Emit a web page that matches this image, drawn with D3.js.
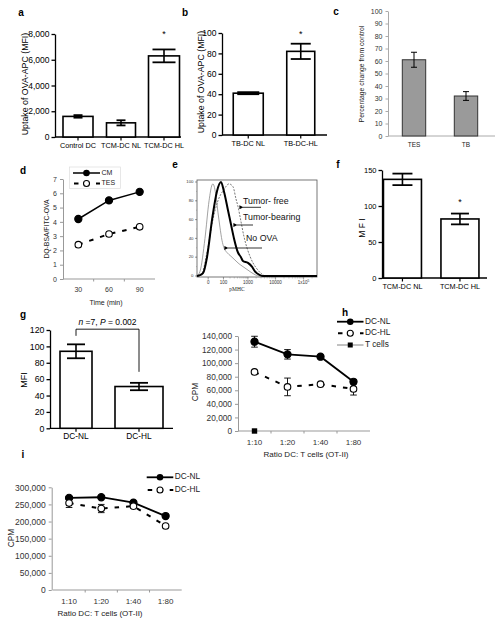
<!DOCTYPE html>
<html><head><meta charset="utf-8">
<script src="https://cdn.jsdelivr.net/npm/d3@7"></script>
<style>body{margin:0;background:#fff}svg{display:block}</style>
</head><body><svg id="fig" width="500" height="625"></svg>
<script>
// ---------- DATA ----------
const aCats = ["Control DC", "TCM-DC NL", "TCM-DC HL"];
const aVals = [1600, 1100, 6300];
const aErr = [100, 200, 500];
const aTicks = [0, 2000, 4000, 6000, 8000];

const bCats = ["TB-DC NL", "TB-DC-HL"];
const bVals = [41, 82];
const bErr = [1, 7.5];
const bTicks = [0, 20, 40, 60, 80, 100];

const cCats = ["TES", "TB"];
const cVals = [61, 32];
const cErr = [6, 3.5];
const cTicks = [0, 10, 20, 30, 40, 50, 60, 70, 80, 90, 100];

const dTimes = ["30", "60", "90"];
const dCM = [4.2, 5.5, 6.1];
const dTES = [2.4, 3.15, 3.65];
const dTicks = [0, 1, 2, 3, 4, 5, 6, 7];

const eTumorFree = [[-60,0],[-32,1],[-1,30],[19,60],[49,80],[106,92],[180,98],[266,95],[351,82],[420,74],[548,58],[712,42],[922,30],[1190,21],[1533,14],[1971,9],[2532,5],[3252,2],[4528,0],[300000,0]];
const eTumorBearing = [[-60,0],[-45,0.5],[-21,3],[-4,20],[15,60],[42,90],[74,100],[106,90],[163,70],[219,55],[292,40],[420,25],[548,20],[652,16],[1004,14],[1408,10],[1813,5],[2752,1],[3520,0],[300000,0]];
const eNoOVA = [[-60,0],[-38,5],[-12,40],[3,80],[15,97],[19,98],[36,85],[49,68],[65,52],[84,38],[106,30],[147,25],[219,21],[320,17],[460,13],[652,10],[922,7],[1296,4],[1669,2],[2532,0],[300000,0]];
const eXTicks = [0, 100, 1000, 10000, 100000];
const eYTicks = [0, 20, 40, 60, 80, 100];

const fCats = ["TCM-DC NL", "TCM-DC HL"];
const fVals = [137, 82];
const fErr = [8, 7.5];
const fTicks = [0, 50, 100, 150];

const gCats = ["DC-NL", "DC-HL"];
const gVals = [94, 51];
const gErr = [8.5, 4.5];
const gTicks = [0, 20, 40, 60, 80, 100, 120];

const hRatios = ["1:10", "1:20", "1:40", "1:80"];
const hNL = [131600, 113000, 109500, 72500];
const hNLErr = [8000, 7000, 2000, 3000];
const hHL = [87000, 65000, 69000, 62000];
const hHLErr = [2000, 13000, 2000, 9000];
const hTcells = [0];
const hTicks = [0, 20000, 40000, 60000, 80000, 100000, 120000, 140000];

const iRatios = ["1:10", "1:20", "1:40", "1:80"];
const iNL = [269000, 271000, 255000, 216000];
const iNLErr = [3000, 3000, 3000, 4000];
const iHL = [254000, 238000, 245000, 187000];
const iHLErr = [13000, 12000, 3000, 3000];
const iTicks = [0, 50000, 100000, 150000, 200000, 250000, 300000];

// ---------- DRAW ----------
const FONT = '"Liberation Sans", Arial, sans-serif';
const svg = d3.select("#fig").attr("font-family", FONT);
const defs = svg.append("defs");
defs.append("marker").attr("id","arr").attr("viewBox","0 0 10 10").attr("refX",1).attr("refY",5)
  .attr("markerWidth",5).attr("markerHeight",5).attr("orient","auto-start-reverse")
  .append("path").attr("d","M0,5 L10,0 L10,10 Z").attr("fill","#000");

function txt(g, x, y, s, fs, opt = {}) {
  const t = g.append("text").attr("x", x).attr("y", y).attr("font-size", fs)
    .attr("text-anchor", opt.anchor || "middle").attr("dominant-baseline", "middle")
    .attr("fill", opt.fill || "#000").text(s);
  if (opt.weight) t.attr("font-weight", opt.weight);
  if (opt.rot) t.attr("transform", `rotate(${opt.rot},${x},${y})`);
  if (opt.family) t.attr("font-family", opt.family);
  return t;
}

// panel letters
[["a",21,13],["b",185,13],["c",336,12],["d",23,171],["e",175,165],["f",338,165],["g",23,315],["h",345,313],["i",23,455]]
  .forEach(([l,x,y]) => txt(svg, x, y, l, 10, {weight:"bold"}));

// GraphPad-style bar panel
function gpBars(o) {
  const g = svg.append("g");
  const y = d3.scaleLinear().domain(o.yDomain).range(o.yRange);
  const x = d3.scalePoint().domain(o.cats).range(o.xRange).padding(0.5);
  const ax = g.append("g").attr("transform", `translate(${o.axisX},0)`)
    .call(d3.axisLeft(y).tickValues(o.ticks).tickSize(3.5).tickPadding(2).tickSizeOuter(0).tickFormat(o.fmt || d3.format(",")));
  ax.attr("font-family", FONT).attr("font-size", o.tickFs);
  ax.select(".domain").attr("stroke", "#000").attr("stroke-width", 1.3);
  ax.selectAll(".tick line").attr("stroke", "#000").attr("stroke-width", 1.3);
  ax.selectAll(".tick text").attr("fill", "#000");
  const y0 = y(0);
  g.append("line").attr("x1", o.axisX).attr("x2", o.xEnd).attr("y1", y0).attr("y2", y0).attr("stroke", "#000").attr("stroke-width", 1.3);
  g.selectAll("line.xt").data(o.cats).join("line").attr("x1", d => x(d)).attr("x2", d => x(d))
    .attr("y1", y0).attr("y2", y0 + 3.5).attr("stroke", "#000").attr("stroke-width", 1.2);
  g.selectAll("rect.bar").data(o.vals).join("rect")
    .attr("x", (d, i) => x(o.cats[i]) - o.barW[i] / 2).attr("y", d => y(d))
    .attr("width", (d, i) => o.barW[i]).attr("height", d => y0 - y(d))
    .attr("fill", "#fff").attr("stroke", "#000").attr("stroke-width", 1.6);
  o.vals.forEach((v, i) => {
    const cx = x(o.cats[i]), cw = o.capW[i] / 2, e = o.err[i];
    g.append("line").attr("x1", cx).attr("x2", cx).attr("y1", y(v - e)).attr("y2", y(v + e)).attr("stroke", "#000").attr("stroke-width", 1.6);
    [v - e, v + e].forEach(t => g.append("line").attr("x1", cx - cw).attr("x2", cx + cw).attr("y1", y(t)).attr("y2", y(t)).attr("stroke", "#000").attr("stroke-width", 1.8));
    txt(g, cx, y0 + 9, o.cats[i], o.catFs);
  });
  if (o.stars) o.stars.forEach(i => txt(g, x(o.cats[i]), y(o.vals[i] + o.err[i]) - o.starGap, "*", 9));
  txt(g, o.titleX, o.titleY, o.title, o.titleFs, {rot: -90});
  return {g, x, y};
}

// a
gpBars({cats: aCats, vals: aVals, err: aErr, ticks: aTicks, yDomain: [0, 8000], yRange: [137, 34],
  xRange: [56.5, 185.5], axisX: 55, xEnd: 181, barW: [30, 29, 31], capW: [9, 9, 23], tickFs: 8.5, catFs: 7.3,
  stars: [2], starGap: 15, title: "Uptake of OVA-APC (MFI)", titleX: 26, titleY: 84, titleFs: 8.8});
// b
gpBars({cats: bCats, vals: bVals, err: bErr, ticks: bTicks, yDomain: [0, 100], yRange: [135, 33],
  xRange: [222, 327], axisX: 222, xEnd: 327, barW: [30, 28], capW: [22, 20], tickFs: 8.5, catFs: 7.3,
  stars: [1], starGap: 9, title: "Uptake of OVA-APC (MFI)", titleX: 202, titleY: 82, titleFs: 8.8});
// f
gpBars({cats: fCats, vals: fVals, err: fErr, ticks: fTicks, yDomain: [0, 150], yRange: [278, 170],
  xRange: [373.7, 488.7], axisX: 382, xEnd: 487, barW: [38, 38], capW: [20, 18], tickFs: 7.5, catFs: 7.3,
  stars: [1], starGap: 11, title: "M F I", titleX: 363, titleY: 228, titleFs: 8.5});
// g
const G = gpBars({cats: gCats, vals: gVals, err: gErr, ticks: gTicks, yDomain: [0, 120], yRange: [428.3, 330],
  xRange: [44.5, 170.5], axisX: 50, xEnd: 173, barW: [32, 48], capW: [18, 18], tickFs: 8.8, catFs: 8.3,
  title: "MFI", titleX: 25, titleY: 380, titleFs: 9});
{
  const yb = G.y, x1 = G.x(gCats[0]), x2 = G.x(gCats[1]);
  const top = yb(121);
  G.g.append("path").attr("d", `M${x1},${yb(gVals[0] + gErr[0]) - 8.5}V${top}H${x2}V${yb(gVals[1] + gErr[1]) - 11}`)
    .attr("fill", "none").attr("stroke", "#000").attr("stroke-width", 0.9);
  const t = G.g.append("text").attr("x", (x1 + x2) / 2).attr("y", top - 6.5).attr("text-anchor", "middle")
    .attr("dominant-baseline", "middle").attr("font-size", 8.5);
  t.append("tspan").attr("font-style", "italic").text("n");
  t.append("tspan").text(" =7, ");
  t.append("tspan").attr("font-style", "italic").text("P");
  t.append("tspan").text(" = 0.002");
}

// c (Excel style bars)
{
  const g = svg.append("g");
  const y = d3.scaleLinear().domain([0, 100]).range([136, 11]);
  const x = d3.scalePoint().domain(cCats).range([388, 492]).padding(0.5);
  const ax = g.append("g").attr("transform", "translate(388,0)")
    .call(d3.axisLeft(y).tickValues(cTicks).tickSize(2.5).tickPadding(3).tickSizeOuter(0));
  ax.attr("font-family", FONT).attr("font-size", 7);
  ax.select(".domain").attr("stroke", "#aaa");
  ax.selectAll(".tick line").attr("stroke", "#aaa");
  ax.selectAll(".tick text").attr("fill", "#333");
  g.append("line").attr("x1", 388).attr("x2", 495).attr("y1", 136).attr("y2", 136).attr("stroke", "#aaa");
  g.selectAll("rect").data(cVals).join("rect").attr("x", (d, i) => x(cCats[i]) - 11.7).attr("y", d => y(d))
    .attr("width", 23.4).attr("height", d => 136 - y(d)).attr("fill", "#9a9a9a").attr("stroke", "#333").attr("stroke-width", 1);
  cVals.forEach((v, i) => {
    const cx = x(cCats[i]), e = cErr[i];
    g.append("line").attr("x1", cx).attr("x2", cx).attr("y1", y(v - e)).attr("y2", y(v + e)).attr("stroke", "#000").attr("stroke-width", 1);
    [v - e, v + e].forEach(t => g.append("line").attr("x1", cx - 3).attr("x2", cx + 3).attr("y1", y(t)).attr("y2", y(t)).attr("stroke", "#000").attr("stroke-width", 1));
    txt(g, cx, 145.5, cCats[i], 6.5, {fill: "#222"});
  });
  txt(g, 362, 74, "Percentage change from control", 6.8, {rot: -90, fill: "#222"});
}

// Excel-style line panel helper
function xlAxes(g, o) {
  const ax = g.append("g").attr("transform", `translate(${o.axisX},0)`)
    .call(d3.axisLeft(o.y).tickValues(o.ticks).tickSize(3).tickPadding(3).tickSizeOuter(0).tickFormat(o.fmt));
  ax.attr("font-family", FONT).attr("font-size", o.tickFs);
  ax.select(".domain").attr("stroke", "#999");
  ax.selectAll(".tick line").attr("stroke", "#999");
  ax.selectAll(".tick text").attr("fill", "#333");
  const xr = o.x.range();
  g.append("line").attr("x1", xr[0]).attr("x2", xr[1]).attr("y1", o.y(0)).attr("y2", o.y(0)).attr("stroke", "#999");
  o.x.domain().forEach(c => {
    const cx = o.x(c) + o.x.bandwidth() / 2;
    txt(g, cx, o.y(0) + o.catGap, c, o.catFs, {fill: "#333"});
  });
  o.x.domain().slice(1).forEach(c => g.append("line").attr("x1", o.x(c)).attr("x2", o.x(c)).attr("y1", o.y(0)).attr("y2", o.y(0) + 2.5).attr("stroke", "#999"));
}
function series(g, x, y, cats, vals, err, dashed, filled, lw) {
  const cx = c => x(c) + x.bandwidth() / 2;
  const line = d3.line().x((d, i) => cx(cats[i])).y(d => y(d));
  g.append("path").attr("d", line(vals)).attr("fill", "none").attr("stroke", "#000").attr("stroke-width", lw)
    .attr("stroke-dasharray", dashed ? "4.5,7" : null);
  if (err) vals.forEach((v, i) => {
    const X = cx(cats[i]);
    g.append("line").attr("x1", X).attr("x2", X).attr("y1", y(v - err[i])).attr("y2", y(v + err[i])).attr("stroke", "#000").attr("stroke-width", 0.9);
    [v - err[i], v + err[i]].forEach(t => g.append("line").attr("x1", X - 3.3).attr("x2", X + 3.3).attr("y1", y(t)).attr("y2", y(t)).attr("stroke", "#000").attr("stroke-width", 0.9));
  });
  g.selectAll(null).data(vals).join("circle").attr("cx", (d, i) => cx(cats[i])).attr("cy", d => y(d))
    .attr("r", filled ? 3.6 : 3.3).attr("fill", filled ? "#000" : "#fff").attr("stroke", "#000").attr("stroke-width", 1.1);
}
function legendItem(g, x1, x2, yy, label, dashed, marker, fs, lw, color) {
  g.append("line").attr("x1", x1).attr("x2", x2).attr("y1", yy).attr("y2", yy).attr("stroke", color || "#000")
    .attr("stroke-width", lw).attr("stroke-dasharray", dashed ? "4.5,6.5" : null)
    .attr("stroke-dashoffset", dashed ? -1 : null);
  const mx = (x1 + x2) / 2;
  if (marker === "filled") g.append("circle").attr("cx", mx).attr("cy", yy).attr("r", 3.3).attr("fill", "#000");
  if (marker === "open") g.append("circle").attr("cx", mx).attr("cy", yy).attr("r", 3).attr("fill", "#fff").attr("stroke", "#000").attr("stroke-width", 1.1);
  if (marker === "square") g.append("rect").attr("x", mx - 2.5).attr("y", yy - 2.5).attr("width", 5).attr("height", 5).attr("fill", "#000");
  txt(g, x2 + 1.5, yy, label, fs, {anchor: "start", fill: "#222"});
}

// d
{
  const g = svg.append("g");
  const y = d3.scaleLinear().domain([0, 7]).range([279, 179]);
  const x = d3.scaleBand().domain(dTimes).range([63, 155]);
  xlAxes(g, {x, y, ticks: dTicks, axisX: 63, tickFs: 7, catFs: 7, catGap: 11, fmt: d3.format("d")});
  series(g, x, y, dTimes, dCM, null, false, true, 1.5);
  series(g, x, y, dTimes, dTES, null, true, false, 2);
  g.append("rect").attr("x", 69.5).attr("y", 167).attr("width", 51).attr("height", 21.5).attr("fill", "none").attr("stroke", "#ddd").attr("stroke-width", 0.7);
  legendItem(g, 73, 100, 173, "CM", false, "filled", 7, 1.5);
  legendItem(g, 73, 100, 183.5, "TES", true, "open", 7, 2);
  txt(g, 47, 229, "DQ-BSA/FITC-OVA", 6.8, {rot: -90, fill: "#222"});
  txt(g, 106, 303, "Time (min)", 7, {fill: "#222"});
}

// e (flow histogram)
{
  const g = svg.append("g");
  const x = d3.scaleSymlog().constant(40).domain([-60, 300000]).range([197, 317]);
  const y = d3.scaleLinear().domain([0, 100]).range([276, 182]);
  g.append("rect").attr("x", 197).attr("y", 180).attr("width", 120).attr("height", 97).attr("fill", "none").attr("stroke", "#555").attr("stroke-width", 0.8);
  const line = d3.line().x(d => x(d[0])).y(d => y(d[1])).curve(d3.curveMonotoneX);
  g.append("path").attr("d", line(eNoOVA)).attr("fill", "none").attr("stroke", "#8a8a8a").attr("stroke-width", 0.8);
  g.append("path").attr("d", line(eTumorFree)).attr("fill", "none").attr("stroke", "#555").attr("stroke-width", 0.8).attr("stroke-dasharray", "2,1.3");
  g.append("path").attr("d", line(eTumorBearing)).attr("fill", "none").attr("stroke", "#000").attr("stroke-width", 2);
  eYTicks.forEach(t => {
    g.append("line").attr("x1", 195).attr("x2", 197).attr("y1", y(t)).attr("y2", y(t)).attr("stroke", "#555").attr("stroke-width", 0.6);
    txt(g, 193.5, y(t), t, 4.3, {anchor: "end", fill: "#333"});
  });
  d3.range(10, 100, 10).forEach(t => g.append("line").attr("x1", 196).attr("x2", 197).attr("y1", y(t)).attr("y2", y(t)).attr("stroke", "#777").attr("stroke-width", 0.4));
  const minors = [];
  [100, 1000, 10000, 100000].forEach(b => d3.range(2, 10).forEach(k => minors.push(b * k)));
  minors.filter(v => v < 300000).forEach(v => g.append("line").attr("x1", x(v)).attr("x2", x(v)).attr("y1", 277).attr("y2", 278.5).attr("stroke", "#777").attr("stroke-width", 0.4));
  eXTicks.forEach(t => {
    g.append("line").attr("x1", x(t)).attr("x2", x(t)).attr("y1", 277).attr("y2", 279.5).attr("stroke", "#555").attr("stroke-width", 0.6);
    if (t === 100000) {
      const tt = g.append("text").attr("x", x(t)).attr("y", 282.5).attr("font-size", 4.5).attr("text-anchor", "middle").attr("dominant-baseline", "middle").attr("fill", "#333");
      tt.append("tspan").text("1x10");
      tt.append("tspan").attr("font-size", 3.2).attr("dy", -1.5).text("5");
    } else txt(g, x(t), 282.5, t, 4.5, {fill: "#333"});
  });
  txt(g, 237, 289.5, "pMHC", 5.5, {family: '"Liberation Serif", serif', fill: "#222"});
  // annotations
  txt(g, 243, 201.5, "Tumor-  free", 8.8, {anchor: "start", fill: "#111"});
  txt(g, 243, 217.5, "Tumor-bearing", 8.8, {anchor: "start", fill: "#111"});
  txt(g, 246, 238.5, "No OVA", 8.8, {anchor: "start", fill: "#111"});
  [[261, 207.3, 240], [253, 225, 234], [262, 248, 225]].forEach(([a, yy, b]) =>
    g.append("line").attr("x1", a).attr("x2", b + 3).attr("y1", yy).attr("y2", yy).attr("stroke", "#000").attr("stroke-width", 0.8).attr("marker-end", "url(#arr)"));
}

// h
{
  const g = svg.append("g");
  const y = d3.scaleLinear().domain([0, 140000]).range([431, 336]);
  const x = d3.scaleBand().domain(hRatios).range([238, 370]);
  xlAxes(g, {x, y, ticks: hTicks, axisX: 238, tickFs: 8.3, catFs: 8, catGap: 12, fmt: d3.format(",")});
  series(g, x, y, hRatios, hNL, hNLErr, false, true, 1.8);
  series(g, x, y, hRatios, hHL, hHLErr, true, false, 2);
  hTcells.forEach((v, i) => g.append("rect").attr("x", x(hRatios[i]) + x.bandwidth() / 2 - 2.7).attr("y", y(v) - 2.7).attr("width", 5.4).attr("height", 5.4).attr("fill", "#000"));
  legendItem(g, 337, 363.5, 321.7, "DC-NL", false, "filled", 8.3, 1.8);
  legendItem(g, 337, 363.5, 333.3, "DC-HL", true, "open", 8.3, 2);
  legendItem(g, 337, 363.5, 345, "T cells", false, "square", 8.3, 0.8, "#666");
  txt(g, 196, 392, "CPM", 8.3, {rot: -90, fill: "#222"});
  txt(g, 306, 455, "Ratio DC: T cells (OT-II)", 8, {fill: "#222"});
}

// i
{
  const g = svg.append("g");
  const y = d3.scaleLinear().domain([0, 300000]).range([590, 487.3]);
  const x = d3.scaleBand().domain(iRatios).range([53, 181.7]);
  xlAxes(g, {x, y, ticks: iTicks, axisX: 51.7, tickFs: 8.5, catFs: 8, catGap: 12, fmt: d3.format(",")});
  series(g, x, y, iRatios, iNL, iNLErr, false, true, 1.8);
  series(g, x, y, iRatios, iHL, iHLErr, true, false, 2);
  legendItem(g, 146.7, 173.3, 477.3, "DC-NL", false, "filled", 8.3, 1.8);
  legendItem(g, 146.7, 173.3, 490, "DC-HL", true, "open", 8.3, 2);
  txt(g, 12, 538, "CPM", 8.3, {rot: -90, fill: "#222"});
  txt(g, 100, 614, "Ratio DC: T cells (OT-II)", 8, {fill: "#222"});
}
</script></body></html>
